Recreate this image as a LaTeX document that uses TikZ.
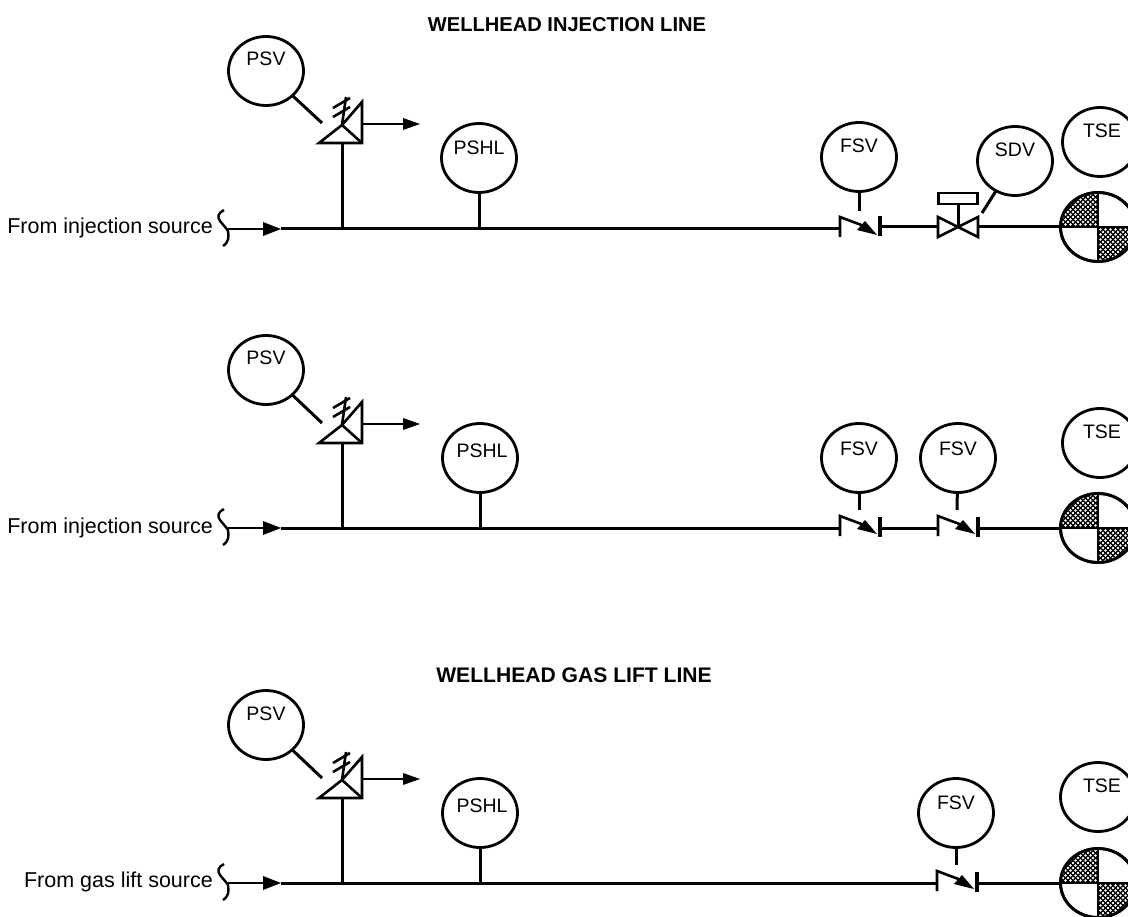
\documentclass[tikz,border=0pt]{standalone}
\usepackage{fontspec}
\setmainfont{Liberation Sans}
\usetikzlibrary{shapes.geometric}
\tikzset{
  pipeline/.style={line width=3pt},
  thinline/.style={line width=2pt},
  symbol/.style={line width=2.6pt,line join=miter},
  instr/.style={draw,ellipse,line width=2.8pt,minimum width=75pt,minimum height=69pt,inner sep=0pt,outer sep=0pt},
  tag/.style={font=\fontsize{19.5}{20}\selectfont,inner sep=0pt},
  title/.style={font=\fontsize{20.1}{20}\selectfont\bfseries,inner sep=0pt},
  srclabel/.style={font=\fontsize{21.5}{20}\selectfont,inner sep=0pt,anchor=east},
}
% name, x, y, text, text-xoffset, text-yoffset
\newcommand{\Instr}[6]{%
  \node[instr] (#1) at (#2,#3) {};
  \node[tag] (#1t) at (#2+#5,#3+#6) {#4};
}
% id, x, y : relief valve with outlet arrow, origin at the tee on the base
\newcommand{\Relief}[3]{%
  \begin{scope}[shift={(#2,#3)}]
    \coordinate (#1base) at (0,0);
    \coordinate (#1apex) at (0,-18);
    \draw[symbol] (-23,0) -- (20,0) -- (20,-41) -- (#1apex) -- cycle;
    \draw[symbol] (#1apex) -- (20,0);
    \draw[symbol] (#1apex) -- (4,-46);
    \draw[symbol] (-9,-35) -- (8,-45);
    \draw[symbol] (-9,-26) -- (8,-36);
    \coordinate (#1out) at (20,-19);
    \coordinate (#1outtip) at (78,-19);
    \draw[thinline] (#1out) -- (62,-19);
    \fill (61,-25) -- (#1outtip) -- (61,-13) -- cycle;
    \coordinate (#1lead) at (-20,-20);
  \end{scope}
}
% id, x, y, dy : check valve, (idL) left bar on line, (idR) right bar on line
\newcommand{\Check}[4]{%
  \begin{scope}[shift={(#2,#3)}]
    \coordinate (#1L) at (0,0);
    \coordinate (#1R) at (40,#4);
    \coordinate (#1top) at (19,-18);
    \draw[line width=2.6pt] (0,8) -- (0,-12) -- (24,-3);
    \draw[line width=3.2pt] (40,-11+#4) -- (40,9+#4);
    \fill (17,1) -- (25,-8) -- (37,6) -- cycle;
  \end{scope}
}
% id, x, y : wellhead symbol
\newcommand{\Wellhead}[3]{%
  \node[instr] (#1) at (#2,#3) {};
  \begin{scope}
    \clip (#2,#3) ellipse [x radius=37.5,y radius=34.5];
    \foreach \qx/\qy in {-1/-1,1/1}{
      \begin{scope}[shift={(#2,#3)},xscale=\qx,yscale=\qy]
        \fill (0,0) rectangle (40,37);
        \foreach \i in {0,...,7}{\foreach \j in {0,...,7}{
          \fill[white] (2.5+\i*5,2.5+\j*5) circle[radius=1.35];
          \fill[white] (5+\i*5,5+\j*5) circle[radius=1.35];
        }}
      \end{scope}
    }
  \end{scope}
  \draw[line width=2.8pt] (#2-38,#3) -- (#2+38,#3);
  \draw[line width=2.8pt] (#2,#3-35) -- (#2,#3+35);
  \node[instr] at (#2,#3) {};
}
% id, y
\newcommand{\Source}[2]{%
  \coordinate (#1brace) at (228,#2);
  \draw[line width=2.4pt] (224,#2-19) .. controls (218,#2-16) and (217,#2-12) .. (220,#2-8)
     .. controls (224,#2-3) and (227,#2) .. (228,#2+2)
     .. controls (229,#2+8) and (229,#2+13) .. (223,#2+17);
  \coordinate (#1tip) at (281,#2);
  \draw[thinline] (#1brace) -- (264,#2);
  \fill (263,#2-7) -- (#1tip) -- (263,#2+7) -- cycle;
}
\begin{document}
\begin{tikzpicture}[x=1pt,y=-1pt]
\clip (0,0) rectangle (1128,917);
\fill[white] (0,0) rectangle (1128,917);

\node[title] (t1) at (567,25) {WELLHEAD INJECTION LINE};
\node[title,font=\fontsize{21.1}{20}\selectfont\bfseries] (t2) at (574,675) {WELLHEAD GAS LIFT LINE};

% ---------- Row 1
\node[srclabel] (s1) at (213,228) {From injection source};
\Source{a}{229}
\Instr{psva}{266}{71}{PSV}{0}{-12}
\Relief{ra}{342}{143}
\Instr{pshla}{479}{158}{PSHL}{0}{-10}
\Instr{fsva}{859}{157}{FSV}{0}{-11}
\Check{ca}{840}{229}{-2}
\Instr{sdv}{1015}{161}{SDV}{0}{-11}
\Instr{tsea}{1100}{142}{TSE}{2}{-11}
\Wellhead{wa}{1098}{227}
\coordinate (ateeR) at (342,229);
\coordinate (ateeP) at (479,229);
\draw[pipeline] (atip) -- (caL);
\draw[pipeline] (ateeR) -- (rabase);
\draw[pipeline] (pshla) -- (ateeP);
\draw[pipeline] (psva) -- (ralead);
\draw[pipeline] (fsva) -- (catop);
% shutdown valve
\coordinate (vL) at (938,227);
\coordinate (vC) at (958,227);
\coordinate (vR) at (978,227);
\draw[symbol] (938,217) -- (978,237) -- (978,217) -- (938,237) -- cycle;
\node[draw,line width=2.6pt,minimum width=39pt,minimum height=11pt,inner sep=0pt,outer sep=0pt] (act) at (958,198.5) {};
\draw[pipeline] (act) -- (vC);
\coordinate (sdvlead) at (982,213);
\draw[pipeline] (sdv) -- (sdvlead);
\draw[pipeline] (caR) -- (vL);
\draw[pipeline] (vR) -- (wa);

% ---------- Row 2
\node[srclabel] (s2) at (213,528) {From injection source};
\Source{b}{528}
\Instr{psvb}{266}{370}{PSV}{0}{-12}
\Relief{rb}{342}{443}
\Instr{pshlb}{480}{458}{PSHL}{2}{-7}
\Instr{fsvb}{859}{458}{FSV}{0}{-9}
\Check{cb}{840}{528}{0}
\Instr{fsvc}{958}{458}{FSV}{0}{-9}
\Check{cc}{938}{528}{0}
\Instr{tseb}{1100}{443}{TSE}{2}{-11}
\Wellhead{wb}{1098}{528}
\coordinate (bteeR) at (342,528);
\coordinate (bteeP) at (480,528);
\draw[pipeline] (btip) -- (cbL);
\draw[pipeline] (bteeR) -- (rbbase);
\draw[pipeline] (pshlb) -- (bteeP);
\draw[pipeline] (psvb) -- (rblead);
\draw[pipeline] (fsvb) -- (cbtop);
\draw[pipeline] (fsvc) -- (cctop);
\draw[pipeline] (cbR) -- (ccL);
\draw[pipeline] (ccR) -- (wb);

% ---------- Row 3
\node[srclabel] (s3) at (213,882) {From gas lift source};
\Source{c}{883}
\Instr{psvc}{266}{725}{PSV}{0}{-11}
\Relief{rc}{342}{798}
\Instr{pshlc}{480}{813}{PSHL}{2}{-7}
\Instr{fsvd}{956}{813}{FSV}{0}{-10}
\Check{cd}{937}{883}{0}
\Instr{tsec}{1098}{797}{TSE}{4}{-11}
\Wellhead{wc}{1098}{883}
\coordinate (cteeR) at (342,883);
\coordinate (cteeP) at (480,883);
\draw[pipeline] (ctip) -- (cdL);
\draw[pipeline] (cteeR) -- (rcbase);
\draw[pipeline] (pshlc) -- (cteeP);
\draw[pipeline] (psvc) -- (rclead);
\draw[pipeline] (fsvd) -- (cdtop);
\draw[pipeline] (cdR) -- (wc);
\end{tikzpicture}
\end{document}
